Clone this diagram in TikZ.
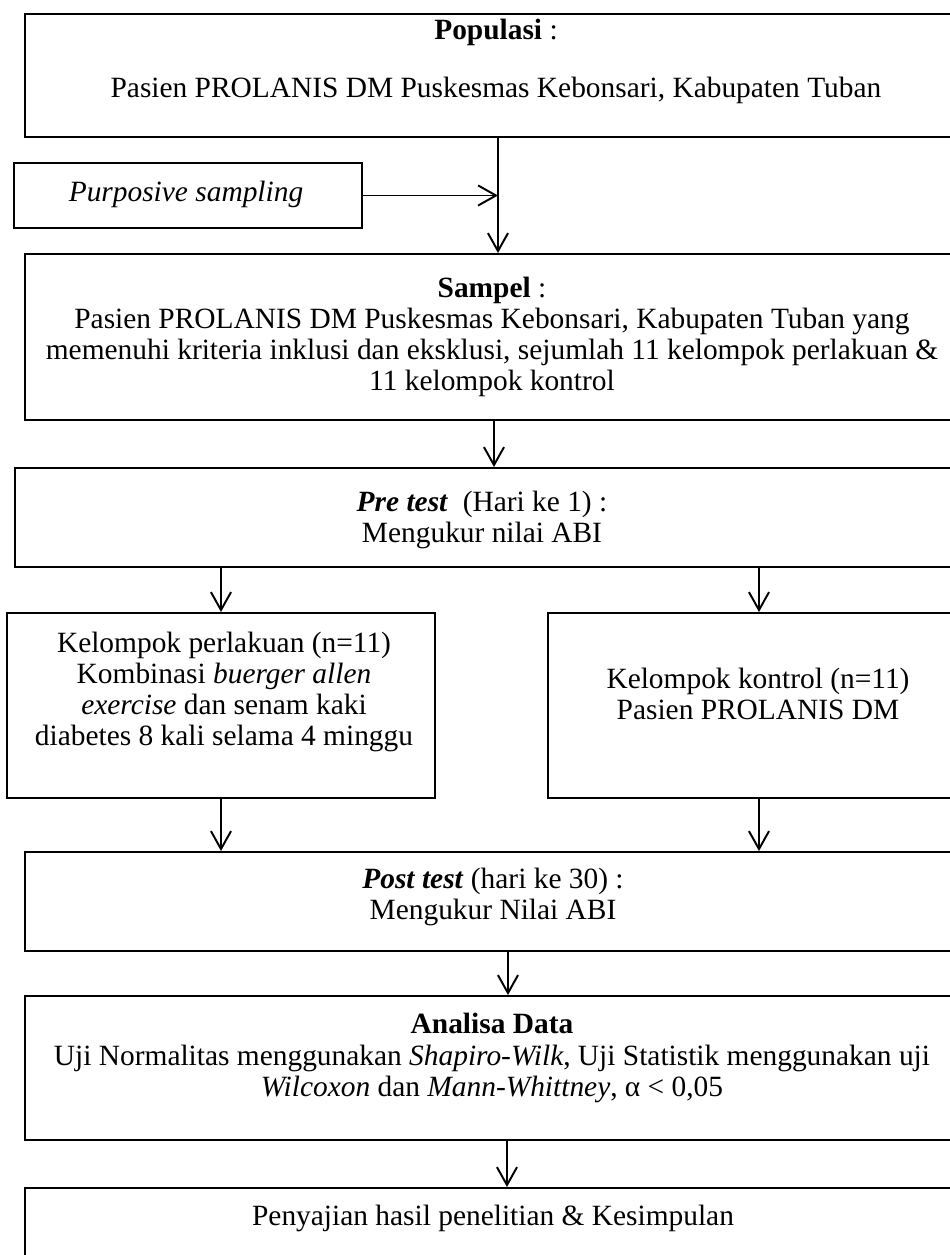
\documentclass[tikz,border=0pt]{standalone}
\usepackage{fontspec}
\setmainfont{Liberation Serif}
\usepackage{tikz}
\usetikzlibrary{arrows.meta}
\usetikzlibrary{positioning}

\begin{document}
\begin{tikzpicture}[x=0.01435cm, y=-0.01435cm,
    box/.style={draw, line width=0.8pt, anchor=north west, inner sep=0pt},
    txt/.style={align=center, inner sep=0pt, font=\fontsize{12pt}{12.7pt}\selectfont},
    arr/.style={-{Straight Barb[length=7.3pt,width=8.2pt]}, line width=0.8pt}]

  \def\p{0.01435cm}

  \useasboundingbox (0,0) rectangle (950,1255);
  \clip (0,0) rectangle (950,1255);

  %boxes (left edge, top edge, width, height)
  \node[box, minimum width={946*\p}, minimum height={123*\p}] (pop) at (24,13) {};
  \node[box, minimum width={348*\p}, minimum height={65*\p}] (purp) at (13,162) {};
  \node[box, minimum width={934*\p}, minimum height={166*\p}] (sam) at (24,253) {};
  \node[box, minimum width={940*\p}, minimum height={99*\p}] (pre) at (14,467) {};
  \node[box, minimum width={428*\p}, minimum height={185*\p}] (kp) at (6,612) {};
  \node[box, minimum width={422*\p}, minimum height={185*\p}] (kk) at (547,612) {};
  \node[box, minimum width={938*\p}, minimum height={99*\p}] (post) at (24,851) {};
  \node[box, minimum width={936*\p}, minimum height={144*\p}] (ana) at (24,995) {};
  \node[box, minimum width={938*\p}, minimum height={120*\p}] (hasil) at (24,1187) {};

  %texts
  \node[txt] (popT) at (496,61) {\textbf{Populasi} :\\[11pt]Pasien PROLANIS DM Puskesmas Kebonsari, Kabupaten Tuban};
  \node[txt] (purpT) at (186,194) {\textit{Purposive sampling}};
  \node[txt] (samT) at (492,337) {\textbf{Sampel} :\\Pasien PROLANIS DM Puskesmas Kebonsari, Kabupaten Tuban yang\\memenuhi kriteria inklusi dan eksklusi, sejumlah 11 kelompok perlakuan \&\\11 kelompok kontrol};
  \node[txt] (preT) at (482,520) {\textbf{\textit{Pre test}}\ \ (Hari ke 1) :\\Mengukur nilai ABI};
  \node[txt] (kpT) at (224,692) {Kelompok perlakuan (n=11)\\Kombinasi \textit{buerger allen}\\\textit{exercise} dan senam kaki\\diabetes 8 kali selama 4 minggu};
  \node[txt] (kkT) at (758,694) {Kelompok kontrol (n=11)\\Pasien PROLANIS DM};
  \node[txt] (postT) at (493,897) {\textbf{\textit{Post test}} (hari ke 30) :\\Mengukur Nilai ABI};
  \node[txt] (anaT) at (492,1058) {\textbf{Analisa Data}\\Uji Normalitas menggunakan \textit{Shapiro-Wilk}, Uji Statistik menggunakan uji\\\textit{Wilcoxon} dan \textit{Mann-Whittney}, α < 0,05};
  \node[txt] (hasilT) at (493,1218) {Penyajian hasil penelitian \& Kesimpulan};

  %arrows
  \draw[arr] (pop.south) -- (pop.south |- sam.north);
  \draw[arr] (purp) -- (purp -| pop.south);
  \draw[arr] ([xshift=2*\p]sam.south) -- ([xshift=2*\p]sam.south |- pre.north);
  \draw[arr] (pre.south -| kp.north) -- (kp.north);
  \draw[arr] (pre.south -| kk.north) -- (kk.north);
  \draw[arr] (kp.south) -- (kp.south |- post.north);
  \draw[arr] (kk.south) -- (kk.south |- post.north);
  \draw[arr] ([xshift=14*\p]post.south) -- ([xshift=14*\p]post.south |- ana.north);
  \draw[arr] ([xshift=14*\p]ana.south) -- ([xshift=14*\p]ana.south |- hasil.north);

\end{tikzpicture}
\end{document}
